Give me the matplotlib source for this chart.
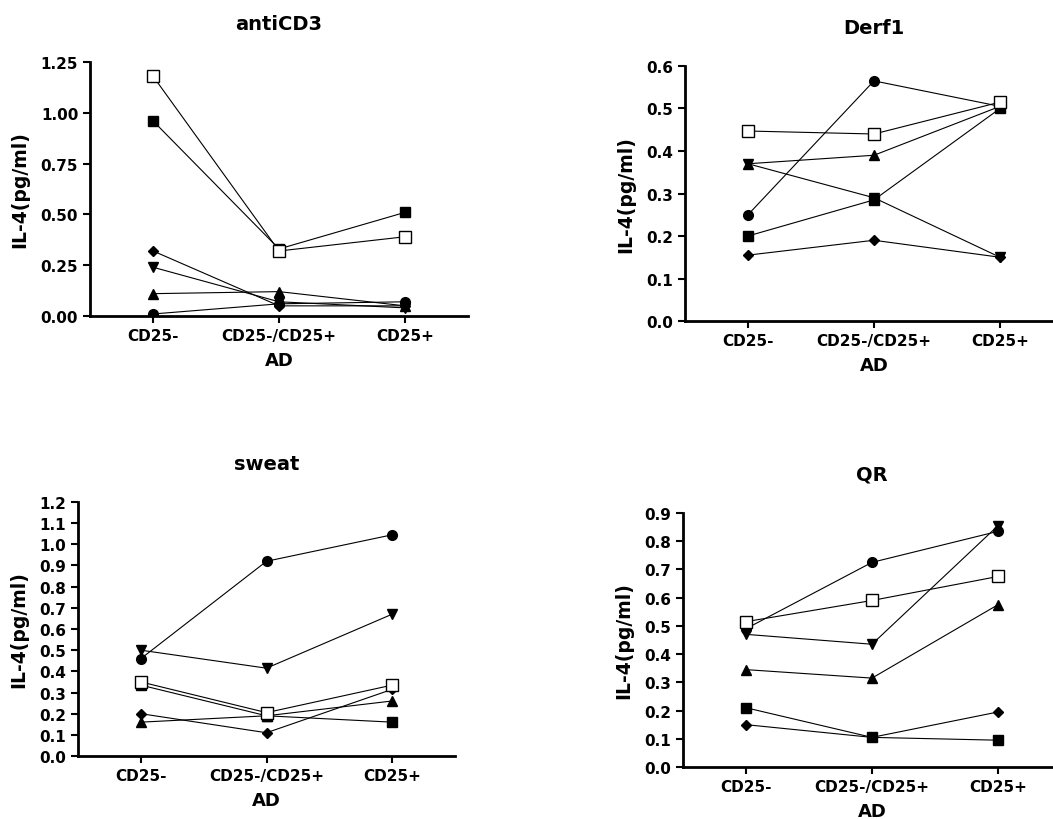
import matplotlib
matplotlib.use("Agg")
import matplotlib.pyplot as plt
import numpy as np

plt.rcParams['font.family'] = ['DejaVu Sans']
plt.rcParams['font.weight'] = 'bold'

groups = ["CD25-", "CD25-/CD25+", "CD25+"]

# IL-4 (pg/ml) per donor
anticd3_circle = [0.01, 0.06, 0.07]
anticd3_square = [0.96, 0.33, 0.51]
anticd3_tri_up = [0.11, 0.12, 0.05]
anticd3_tri_down = [0.24, 0.07, 0.04]
anticd3_diamond = [0.32, 0.05, 0.05]
anticd3_open_sq = [1.18, 0.32, 0.39]

derf1_circle = [0.25, 0.565, 0.505]
derf1_square = [0.20, 0.285, 0.50]
derf1_tri_up = [0.37, 0.39, 0.505]
derf1_tri_down = [0.37, 0.29, 0.15]
derf1_diamond = [0.155, 0.19, 0.15]
derf1_open_sq = [0.447, 0.44, 0.515]

sweat_circle = [0.46, 0.92, 1.045]
sweat_square = [0.335, 0.19, 0.16]
sweat_tri_up = [0.16, 0.19, 0.26]
sweat_tri_down = [0.50, 0.415, 0.67]
sweat_diamond = [0.20, 0.11, 0.315]
sweat_open_sq = [0.35, 0.205, 0.335]

qr_circle = [0.49, 0.725, 0.835]
qr_square = [0.21, 0.105, 0.095]
qr_tri_up = [0.345, 0.315, 0.575]
qr_tri_down = [0.47, 0.435, 0.855]
qr_diamond = [0.15, 0.105, 0.195]
qr_open_sq = [0.515, 0.59, 0.675]

panels = [
    ("antiCD3", [anticd3_circle, anticd3_square, anticd3_tri_up, anticd3_tri_down, anticd3_diamond, anticd3_open_sq],
     np.arange(0, 1.26, 0.25), "%.2f", [0.0855, 0.6134, 0.3590, 0.3098]),
    ("Derf1", [derf1_circle, derf1_square, derf1_tri_up, derf1_tri_down, derf1_diamond, derf1_open_sq],
     np.arange(0, 0.61, 0.1), "%.1f", [0.6505, 0.6073, 0.3590, 0.3110]),
    ("sweat", [sweat_circle, sweat_square, sweat_tri_up, sweat_tri_down, sweat_diamond, sweat_open_sq],
     np.arange(0, 1.21, 0.1), "%.1f", [0.0741, 0.0768, 0.3580, 0.3098]),
    ("QR", [qr_circle, qr_square, qr_tri_up, qr_tri_down, qr_diamond, qr_open_sq],
     np.arange(0, 0.91, 0.1), "%.1f", [0.6486, 0.0634, 0.3590, 0.3098]),
]

markers = [('o', 'black'), ('s', 'black'), ('^', 'black'), ('v', 'black'), ('D', 'black'), ('s', 'white')]

fig = plt.figure(figsize=(10.53, 8.2), dpi=100)

for title, series, yticks, fmt, rect in panels:
    ax = fig.add_axes(rect)
    x = np.arange(len(groups))
    for vals, (m, fc) in zip(series, markers):
        ms = 7 if m != 'D' else 5.5
        if fc == 'white':
            ms = 9
        ax.plot(x, vals, color='black', lw=0.8, marker=m, markersize=ms,
                markerfacecolor=fc, markeredgecolor='black', markeredgewidth=1.0)
    ax.set_xlim(-0.5, 2.5)
    ax.set_ylim(0, yticks[-1])
    ax.set_yticks(yticks)
    ax.set_yticklabels([fmt % v for v in yticks])
    ax.set_xticks(x)
    ax.set_xticklabels(groups)
    ax.spines['top'].set_visible(False)
    ax.spines['right'].set_visible(False)
    ax.spines['left'].set_linewidth(2)
    ax.spines['bottom'].set_linewidth(2)
    ax.spines['left'].set_clip_on(False)
    ax.tick_params(axis='both', width=1.5, length=5, labelsize=11, direction='out')
    ax.set_title(title, fontsize=14, fontweight='bold', pad=24)
    ax.set_ylabel("IL-4(pg/ml)", fontsize=13.5, fontweight='bold', labelpad=8)
    ax.set_xlabel("AD", fontsize=13, fontweight='bold', labelpad=6)

fig.savefig("out.png", dpi=100)
